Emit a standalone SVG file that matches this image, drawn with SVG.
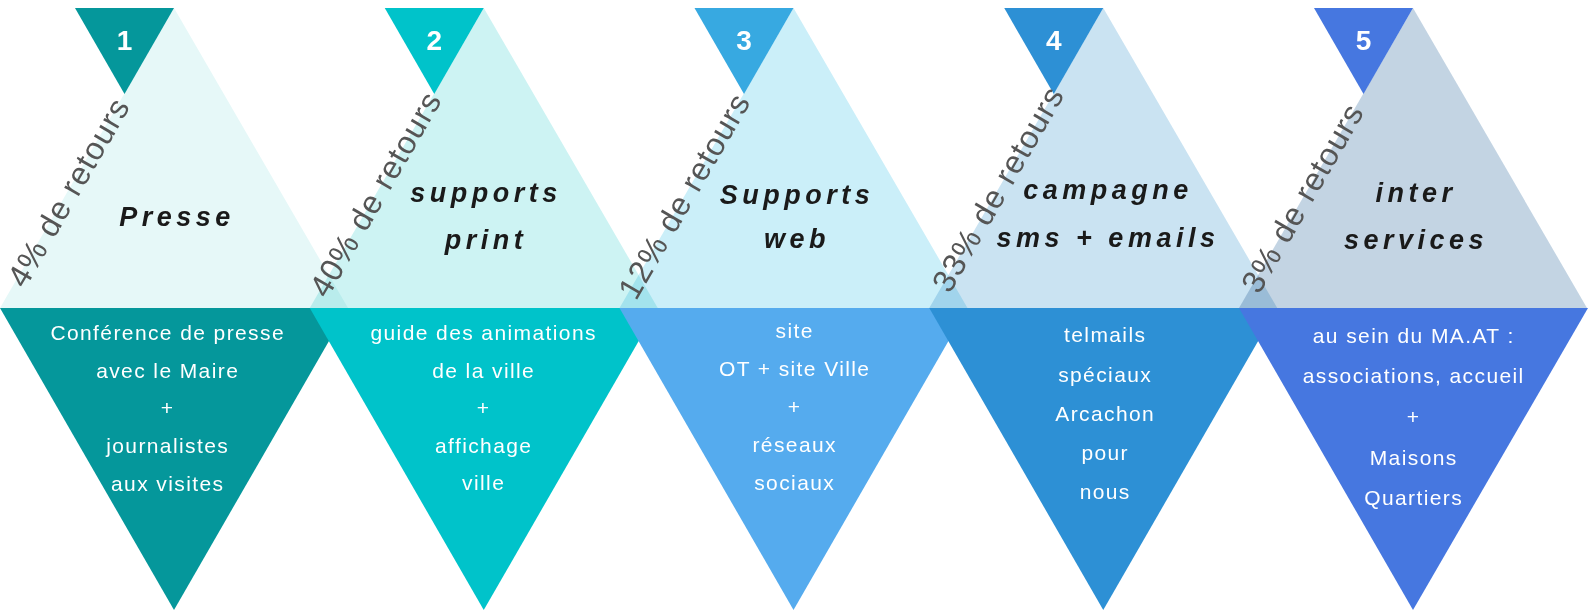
<svg xmlns="http://www.w3.org/2000/svg" width="1588" height="610" viewBox="0 0 1588 610">
<defs>
<style>
.light{mix-blend-mode:multiply}
.num{font-family:"Liberation Sans",Arial,sans-serif;font-weight:bold;font-size:28px;fill:#ffffff;text-anchor:middle}
.title{font-family:"Liberation Sans",Arial,sans-serif;font-weight:bold;font-style:italic;font-size:27px;letter-spacing:4.5px;fill:#1a1a1a;text-anchor:middle}
.body{font-family:"Liberation Sans",Arial,sans-serif;font-size:21px;letter-spacing:1.4px;fill:#ffffff;text-anchor:middle}
.pct{font-family:"Liberation Sans",Arial,sans-serif;font-size:32px;letter-spacing:1px;fill:#555555}
</style>
</defs>
<rect x="0" y="0" width="1588" height="610" fill="#ffffff"/>
<g id="backgrounds">
<polygon class="light" points="0,308 174,8 348,308" fill="#e6f8f8"/>
<polygon class="light" points="309.75,308 483.75,8 657.75,308" fill="#cdf3f3"/>
<polygon class="light" points="619.5,308 793.5,8 967.5,308" fill="#cbeff9"/>
<polygon class="light" points="929.25,308 1103.25,8 1277.25,308" fill="#cae3f2"/>
<polygon class="light" points="1239,308 1413,8 1587,308" fill="#c3d4e3"/>
</g>
<g id="node1">
<polygon points="0,308 348,308 174,610" fill="#05979b"/>
<polygon points="75,8 174,8 124.5,94" fill="#05979b"/>
<text class="num" x="124.5" y="50">1</text>
<text class="title" x="177" y="226">Presse</text>
<text class="pct" transform="translate(25,289.5) rotate(-60)">4% de retours</text>
<text class="body" x="167.7" y="340">Conférence de presse</text>
<text class="body" x="167.7" y="377.7">avec le Maire</text>
<text class="body" x="167.7" y="415.4">+</text>
<text class="body" x="167.7" y="453">journalistes</text>
<text class="body" x="167.7" y="491">aux visites</text>
</g>
<g id="node2">
<polygon points="309.75,308 657.75,308 483.75,610" fill="#00c3ca"/>
<polygon points="384.75,8 483.75,8 434.25,94" fill="#00c3ca"/>
<text class="num" x="434.25" y="50">2</text>
<text class="title" x="486" y="202">supports</text>
<text class="title" x="486" y="249">print</text>
<text class="pct" transform="translate(327.3,299.6) rotate(-60)">40% de retours</text>
<text class="body" x="483.7" y="340">guide des animations</text>
<text class="body" x="483.7" y="377.5">de la ville</text>
<text class="body" x="483.7" y="415">+</text>
<text class="body" x="483.7" y="452.5">affichage</text>
<text class="body" x="483.7" y="490">ville</text>
</g>
<g id="node3">
<polygon points="619.5,308 967.5,308 793.5,610" fill="#55abee"/>
<polygon points="694.5,8 793.5,8 744,94" fill="#37a9e1"/>
<text class="num" x="744" y="50">3</text>
<text class="title" x="797" y="204">Supports</text>
<text class="title" x="797" y="248">web</text>
<text class="pct" transform="translate(636,301.4) rotate(-60)">12% de retours</text>
<text class="body" x="794.7" y="338">site</text>
<text class="body" x="794.7" y="376">OT + site Ville</text>
<text class="body" x="794.7" y="414">+</text>
<text class="body" x="794.7" y="452">réseaux</text>
<text class="body" x="794.7" y="490">sociaux</text>
</g>
<g id="node4">
<polygon points="929.25,308 1277.25,308 1103.25,610" fill="#2d90d5"/>
<polygon points="1004.25,8 1103.25,8 1053.75,94" fill="#2d90d5"/>
<text class="num" x="1053.75" y="50">4</text>
<text class="title" x="1108" y="199">campagne</text>
<text class="title" x="1108" y="247">sms + emails</text>
<text class="pct" transform="translate(949.8,294.4) rotate(-60)">33% de retours</text>
<text class="body" x="1105.2" y="342">telmails</text>
<text class="body" x="1105.2" y="381.5">spéciaux</text>
<text class="body" x="1105.2" y="421">Arcachon</text>
<text class="body" x="1105.2" y="460">pour</text>
<text class="body" x="1105.2" y="499">nous</text>
</g>
<g id="node5">
<polygon points="1239,308 1588,308 1413,610" fill="#4677e0"/>
<polygon points="1314,8 1413,8 1363.5,94" fill="#4677e0"/>
<text class="num" x="1363.5" y="50">5</text>
<text class="title" x="1416" y="202">inter</text>
<text class="title" x="1416" y="249">services</text>
<text class="pct" transform="translate(1259,295.3) rotate(-60)">3% de retours</text>
<text class="body" x="1413.7" y="343">au sein du MA.AT :</text>
<text class="body" x="1413.7" y="383">associations, accueil</text>
<text class="body" x="1413.7" y="424">+</text>
<text class="body" x="1413.7" y="465">Maisons</text>
<text class="body" x="1413.7" y="505">Quartiers</text>
</g>
<g id="connectors"></g>
</svg>
